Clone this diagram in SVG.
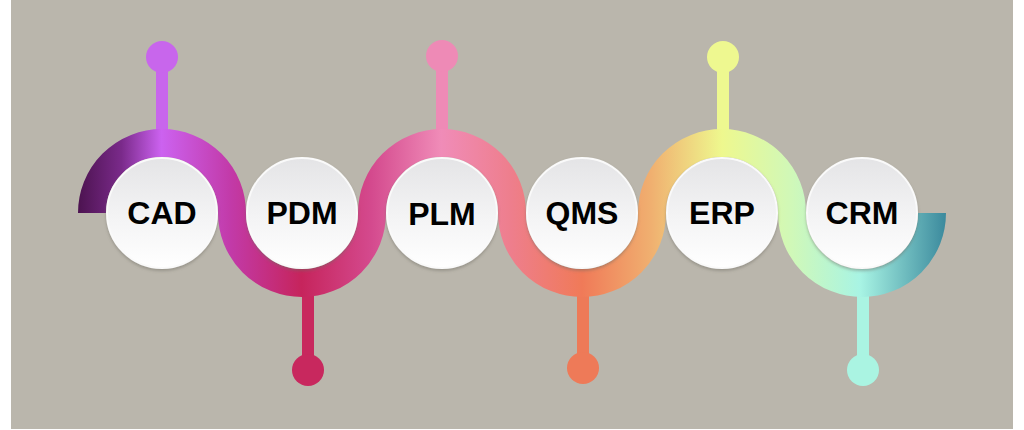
<svg xmlns="http://www.w3.org/2000/svg" width="1024" height="430" viewBox="0 0 1024 430">
  <defs>
    <linearGradient id="band" gradientUnits="userSpaceOnUse" x1="78" y1="0" x2="947" y2="0">
      <stop offset="0" stop-color="#4c1350"/>
      <stop offset="0.05" stop-color="#7a2a8a"/>
      <stop offset="0.096" stop-color="#cc62f0"/>
      <stop offset="0.176" stop-color="#c23aa8"/>
      <stop offset="0.257" stop-color="#c6245c"/>
      <stop offset="0.338" stop-color="#d44a8e"/>
      <stop offset="0.418" stop-color="#f08cb8"/>
      <stop offset="0.499" stop-color="#ee7e8c"/>
      <stop offset="0.580" stop-color="#f07a58"/>
      <stop offset="0.660" stop-color="#f0b070"/>
      <stop offset="0.741" stop-color="#eef88e"/>
      <stop offset="0.821" stop-color="#d0f8b8"/>
      <stop offset="0.900" stop-color="#a8f4e4"/>
      <stop offset="1" stop-color="#3a889c"/>
    </linearGradient>
    <linearGradient id="disc" x1="0" y1="0" x2="0" y2="1">
      <stop offset="0" stop-color="#e4e4e6"/>
      <stop offset="0.55" stop-color="#f4f4f5"/>
      <stop offset="1" stop-color="#ffffff"/>
    </linearGradient>
    <filter id="shadow" x="-20%" y="-20%" width="140%" height="140%">
      <feDropShadow dx="0" dy="2" stdDeviation="1.5" flood-color="#6e6a62" flood-opacity="0.45"/>
    </filter>
  </defs>
  <style>
    .disc { fill: url(#disc); stroke: #fafafa; stroke-width: 2; filter: url(#shadow); }
    .label { font-family: "Liberation Sans", Arial, sans-serif; font-weight: bold; font-size: 32px; fill: #000; text-anchor: middle; }
    .stem { stroke-width: 12; fill: none; }
  </style>
  <rect x="0" y="0" width="1024" height="430" fill="#ffffff"/>
  <rect x="11" y="0" width="1002" height="429" fill="#bab6ac"/>

  <g id="pins">
    <g id="pin-cad"><line class="stem" x1="162" y1="60" x2="162" y2="131" stroke="#c866ec"/><circle cx="162" cy="57" r="16" fill="#c866ec"/></g>
    <g id="pin-pdm"><line class="stem" x1="308" y1="295" x2="308" y2="368" stroke="#c8285e"/><circle cx="308" cy="370" r="16" fill="#c8285e"/></g>
    <g id="pin-plm"><line class="stem" x1="442" y1="58" x2="442" y2="131" stroke="#ee8ab6"/><circle cx="442" cy="56" r="16" fill="#ee8ab6"/></g>
    <g id="pin-qms"><line class="stem" x1="583" y1="295" x2="583" y2="366" stroke="#ee7a58"/><circle cx="583" cy="368" r="16" fill="#ee7a58"/></g>
    <g id="pin-erp"><line class="stem" x1="723" y1="60" x2="723" y2="131" stroke="#eef890"/><circle cx="723" cy="57" r="16" fill="#eef890"/></g>
    <g id="pin-crm"><line class="stem" x1="863" y1="295" x2="863" y2="368" stroke="#aaf4e2"/><circle cx="863" cy="370" r="16" fill="#aaf4e2"/></g>
  </g>

  <g id="connectors">
    <path d="M 92 213 A 70 70 0 0 1 232 213 A 70 70 0 0 0 372 213 A 70 70 0 0 1 512 213 A 70 70 0 0 0 652 213 A 70 70 0 0 1 792 213 A 70 70 0 0 0 932 213" fill="none" stroke="url(#band)" stroke-width="28" stroke-linecap="butt"/>
  </g>

  <g id="node-cad"><circle class="disc" cx="162" cy="213" r="55"/><text class="label" x="162" y="224">CAD</text></g>
  <g id="node-pdm"><circle class="disc" cx="302" cy="213" r="55"/><text class="label" x="302" y="224">PDM</text></g>
  <g id="node-plm"><circle class="disc" cx="442" cy="213" r="55"/><text class="label" x="442" y="225">PLM</text></g>
  <g id="node-qms"><circle class="disc" cx="582" cy="213" r="55"/><text class="label" x="582" y="224">QMS</text></g>
  <g id="node-erp"><circle class="disc" cx="722" cy="213" r="55"/><text class="label" x="722" y="224">ERP</text></g>
  <g id="node-crm"><circle class="disc" cx="862" cy="213" r="55"/><text class="label" x="862" y="224">CRM</text></g>
</svg>
